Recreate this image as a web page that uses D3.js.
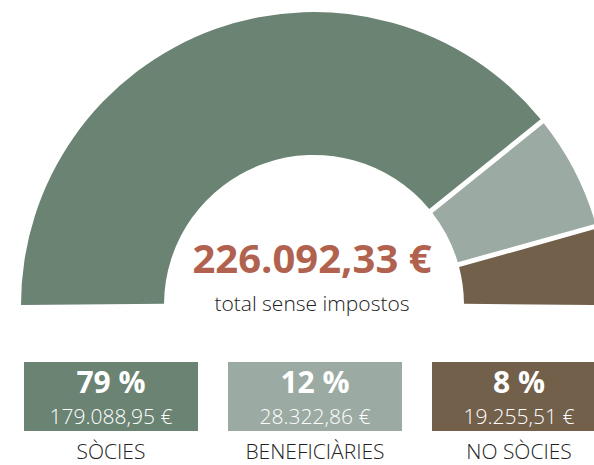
<!DOCTYPE html>
<html>
<head>
<meta charset="utf-8">
<script src="https://cdn.jsdelivr.net/npm/d3@7"></script>
<style>
  html, body { margin: 0; padding: 0; background: #fff; }
  svg { display: block; }
</style>
</head>
<body>
<svg id="chart" width="594" height="465"></svg>
<script>
const categories = ["SÒCIES", "BENEFICIÀRIES", "NO SÒCIES"];
const amounts = [179088.95, 28322.86, 19255.51];
const percentLabels = ["79 %", "12 %", "8 %"];
const amountLabels = ["179.088,95 €", "28.322,86 €", "19.255,51 €"];
const totalLabel = "226.092,33 €";
const subtitle = "total sense impostos";
const colors = ["#6a8373", "#9baaa2", "#73604b"];

const svg = d3.select("#chart");
const cx = 314, cy = 305, rOuter = 293, rInner = 150;
const gap = 5;
const padRadius = rOuter;
const padAngle = gap / padRadius;

const pie = d3.pie().sort(null).value(d => d)
  .startAngle(-Math.PI / 2 - padAngle / 2)
  .endAngle(Math.PI / 2 + padAngle / 2)
  .padAngle(padAngle);

const arc = d3.arc().innerRadius(rInner).outerRadius(rOuter).padRadius(padRadius);

const g = svg.append("g").attr("transform", `translate(${cx},${cy})`);
g.selectAll("path").data(pie(amounts)).join("path")
  .attr("d", arc)
  .attr("fill", (d, i) => colors[i]);

svg.append("text")
  .attr("x", 312).attr("y", 273)
  .attr("text-anchor", "middle")
  .attr("font-family", "'Open Sans', sans-serif")
  .attr("font-weight", 700)
  .attr("font-size", 40)
  .attr("fill", "#b1624f")
  .text(totalLabel);

svg.append("text")
  .attr("x", 312).attr("y", 311)
  .attr("text-anchor", "middle")
  .attr("font-family", "'Open Sans', sans-serif")
  .attr("font-weight", 300)
  .attr("font-size", 21)
  .attr("fill", "#222")
  .text(subtitle);

// boxes
const bx = d3.scaleBand().domain(categories).range([24, 606]).paddingInner(30 / 204).paddingOuter(0);
const boxW = bx.bandwidth();
const boxes = svg.selectAll("g.box").data(categories).join("g")
  .attr("class", "box")
  .attr("transform", d => `translate(${bx(d)},0)`);

boxes.append("rect")
  .attr("x", 0).attr("y", 362)
  .attr("width", boxW).attr("height", 69)
  .attr("fill", (d, i) => colors[i]);

boxes.append("text")
  .attr("x", boxW / 2).attr("y", 393)
  .attr("text-anchor", "middle")
  .attr("font-family", "'Open Sans', sans-serif")
  .attr("font-weight", 700)
  .attr("font-size", 30)
  .attr("fill", "#fff")
  .text((d, i) => percentLabels[i]);

boxes.append("text")
  .attr("x", boxW / 2).attr("y", 424)
  .attr("text-anchor", "middle")
  .attr("font-family", "'Open Sans', sans-serif")
  .attr("font-weight", 300)
  .attr("font-size", 21)
  .attr("fill", "#fff")
  .text((d, i) => amountLabels[i]);

boxes.append("text")
  .attr("x", boxW / 2).attr("y", 459)
  .attr("text-anchor", "middle")
  .attr("font-family", "'Open Sans', sans-serif")
  .attr("font-weight", 300)
  .attr("font-size", 21)
  .attr("fill", "#222")
  .text(d => d);
</script>
</body>
</html>
